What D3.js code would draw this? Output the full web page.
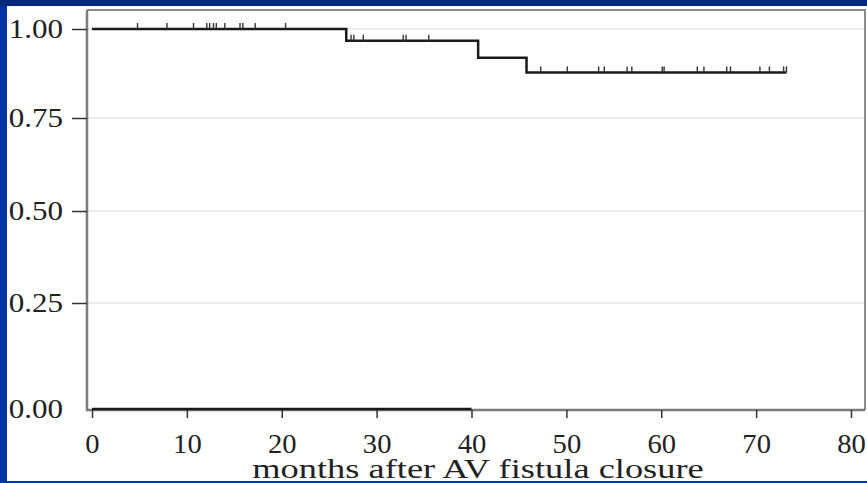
<!DOCTYPE html>
<html>
<head>
<meta charset="utf-8">
<script src="https://cdn.jsdelivr.net/npm/d3@7"></script>
<style>
  html, body { margin: 0; padding: 0; background: #00308f; }
  svg { display: block; }
</style>
</head>
<body>
<svg id="chart" width="867" height="483"></svg>
<script>
// ---- data ----
const xTicks = [0, 10, 20, 30, 40, 50, 60, 70, 80];
const yTicks = [0.00, 0.25, 0.50, 0.75, 1.00];
const yTickLabels = ["0.00", "0.25", "0.50", "0.75", "1.00"];
const eventTimes = [0, 26.8, 40.7, 45.8];
const survival = [1.00, 0.967, 0.919, 0.878];
const lastTime = 73.2;
const censorTimes = [4.8, 7.9, 10.7, 12.1, 12.4, 12.8, 13.1, 14.0, 15.6, 15.9, 17.2, 20.4,
                     27.3, 27.6, 28.6, 32.8, 33.1, 35.5,
                     47.3, 50.1, 53.4, 54.0, 56.4, 56.9, 60.1, 60.3, 63.8, 64.5, 66.9, 67.3, 70.4, 71.4, 72.9, 73.2];
const zeroSegment = [0, 40];
const xTitle = "months after AV fistula closure";

// ---- drawing ----
(function () {
const svg = d3.select("#chart");
const W = 867, H = 483;
const serif = "'Liberation Serif', 'Times New Roman', serif";

svg.append("rect").attr("x", 0).attr("y", 0).attr("width", W).attr("height", H).attr("fill", "#0034a0");
svg.append("rect").attr("x", 0).attr("y", 0).attr("width", W).attr("height", 6).attr("fill", "#022a7c");
svg.append("rect").attr("x", 7).attr("y", 6).attr("width", W - 7).attr("height", 475).attr("fill", "#ffffff");

const x = d3.scaleLinear().domain([0, 80]).range([92, 851]);
const y = d3.scaleLinear().domain([0, 0.25, 0.5, 0.75, 1]).range([409, 303, 211, 118, 29]);

const pl = 87, pr = 865, pt = 10, pb = 410;

// gridlines
svg.append("g").selectAll("line").data(yTicks.filter(d => d > 0)).join("line")
  .attr("x1", pl).attr("x2", pr)
  .attr("y1", d => y(d)).attr("y2", d => y(d))
  .attr("stroke", "#e6e6e6").attr("stroke-width", 1.5);

// frame
svg.append("path")
  .attr("d", `M${pl},${pt}H${pr}V${pb}`)
  .attr("fill", "none").attr("stroke", "#8a8a8a").attr("stroke-width", 2);
svg.append("path")
  .attr("d", `M${pl},${pt}V${pb}H${pr}`)
  .attr("fill", "none").attr("stroke", "#7a7a7a").attr("stroke-width", 2.5);

// x axis
const xAxis = d3.axisBottom(x).tickValues(xTicks).tickSize(8).tickPadding(16).tickFormat(d3.format("d"));
const gx = svg.append("g").attr("transform", `translate(0,${pb})`).call(xAxis);
gx.select(".domain").remove();
gx.selectAll(".tick line").attr("stroke", "#333").attr("stroke-width", 1.5);
gx.selectAll(".tick text")
  .attr("font-family", serif)
  .attr("font-size", 27).attr("fill", "#222")
  .attr("transform", "scale(1.06,1)");

// y axis
const yAxis = d3.axisLeft(y).tickValues(yTicks).tickSize(15).tickPadding(9)
  .tickFormat((d, i) => yTickLabels[i]);
const gy = svg.append("g").attr("transform", `translate(${pl},0)`).call(yAxis);
gy.select(".domain").remove();
gy.selectAll(".tick line").attr("stroke", "#333").attr("stroke-width", 1.5)
  .attr("opacity", d => d === 0 ? 0 : 1);
gy.selectAll(".tick text")
  .attr("font-family", serif)
  .attr("font-size", 27).attr("fill", "#222")
  .attr("x", -24 / 1.15)
  .attr("transform", "scale(1.15,1)");

// zero segment
svg.append("line")
  .attr("x1", x(zeroSegment[0])).attr("x2", x(zeroSegment[1]))
  .attr("y1", y(0)).attr("y2", y(0))
  .attr("stroke", "#1a1a1a").attr("stroke-width", 2.5);

// KM step line
const pts = eventTimes.map((t, i) => [t, survival[i]]);
pts.push([lastTime, survival[survival.length - 1]]);
const line = d3.line().x(d => x(d[0])).y(d => y(d[1])).curve(d3.curveStepAfter);
svg.append("path").datum(pts).attr("d", line)
  .attr("fill", "none").attr("stroke", "#1a1a1a").attr("stroke-width", 2.5);

// censor marks
const survAt = t => survival[d3.bisectRight(eventTimes, t) - 1];
svg.append("g").selectAll("line").data(censorTimes).join("line")
  .attr("x1", d => x(d)).attr("x2", d => x(d))
  .attr("y1", d => y(survAt(d))).attr("y2", d => y(survAt(d)) - 6)
  .attr("stroke", "#333").attr("stroke-width", 1.4);

// title
svg.append("text")
  .attr("x", 0).attr("y", 0)
  .attr("transform", `translate(${(245 + 711) / 2},478) scale(1.3,1)`)
  .attr("text-anchor", "middle")
  .attr("font-family", serif)
  .attr("font-size", 28).attr("fill", "#222")
  .text(xTitle);

// bottom blue strip
svg.append("rect").attr("x", 0).attr("y", 481).attr("width", W).attr("height", 2).attr("fill", "#0034a0");
})();
</script>
</body>
</html>
